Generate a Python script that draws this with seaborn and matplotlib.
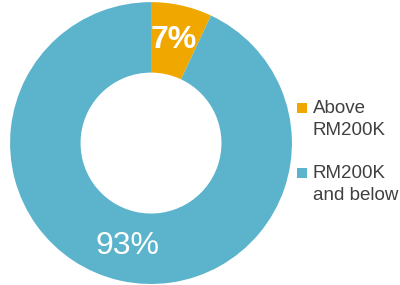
import matplotlib
matplotlib.use("Agg")
import matplotlib.pyplot as plt
from matplotlib.patches import Rectangle
import seaborn as sns

labels = ["Above\nRM200K", "RM200K\nand below"]
shares = [7, 93]
colors = ["#F0A800", "#5BB3CC"]

sns.set_theme(style="white")
plt.rcParams["font.family"] = ["Liberation Sans", "DejaVu Sans"]

fig = plt.figure(figsize=(4.0, 2.85), dpi=100)
ax = fig.add_axes([0.025, 0.0035, 0.705, 0.989])

wedges, texts, autotexts = ax.pie(
    shares, colors=colors, startangle=90, counterclock=False,
    autopct="%d%%", pctdistance=0.75,
    wedgeprops=dict(width=0.5, edgecolor="none"),
    textprops=dict(color="white", fontsize=23),
)
autotexts[0].set_fontweight("bold")
ax.set_xlim(-1, 1)
ax.set_ylim(-1, 1)
ax.set_aspect("equal")
ax.axis("off")

# legend drawn by hand so the square sits on the first line
W, H = 400, 285
for i, (lab, col) in enumerate(zip(labels, colors)):
    top = 100 + i * 65
    fig.patches.append(Rectangle((297 / W, 1 - (top + 13) / H), 10 / W, 10 / H,
                                 facecolor=col, edgecolor="none",
                                 transform=fig.transFigure))
    fig.text(313 / W, 1 - top / H, lab, color="#404040", fontsize=13.5,
             va="top", ha="left", linespacing=1.35)

fig.savefig("out.png", dpi=100)
